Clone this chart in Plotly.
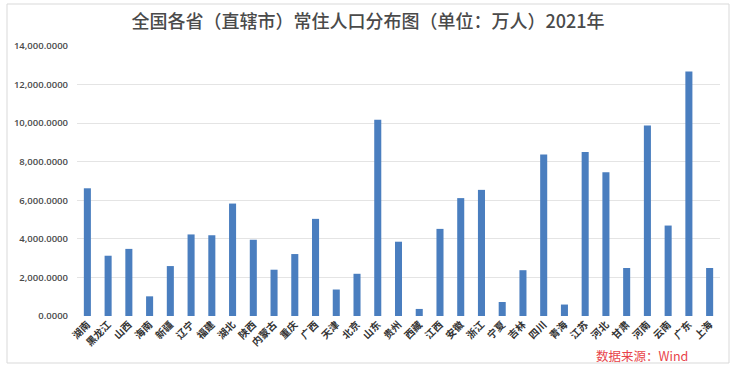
import plotly.graph_objects as go

provinces = ["湖南", "黑龙江", "山西", "海南", "新疆", "辽宁", "福建", "湖北", "陕西", "内蒙古",
             "重庆", "广西", "天津", "北京", "山东", "贵州", "西藏", "江西", "安徽", "浙江",
             "宁夏", "吉林", "四川", "青海", "江苏", "河北", "甘肃", "河南", "云南", "广东", "上海"]
population = [6622, 3125, 3480, 1020, 2589, 4229, 4187, 5830, 3954, 2400,
              3212, 5037, 1373, 2189, 10170, 3852, 366, 4517, 6113, 6540,
              725, 2375, 8372, 594, 8505, 7448, 2490, 9883, 4690, 12684, 2489]
y_ticks = [0, 2000, 4000, 6000, 8000, 10000, 12000, 14000]

title_text = "全国各省（直辖市）常住人口分布图（单位：万人）2021年"
source_text = "数据来源：Wind"

fig = go.Figure(go.Bar(
    x=provinces, y=population,
    marker=dict(color="#4a7ebf", line=dict(width=0)),
))

fig.update_layout(
    width=736, height=372,
    margin=dict(l=77, r=16, t=46, b=56, autoexpand=False),
    paper_bgcolor="white", plot_bgcolor="white",
    bargap=0.66,
    showlegend=False,
    title=dict(text=title_text, xref="paper", xanchor="center",
               y=1 - 22 / 372, yanchor="middle", yref="container",
               font=dict(family="Noto Sans CJK SC", size=18, color="#4a4a4a", weight=500)),
    font=dict(family="Noto Sans CJK SC"),
)
fig.update_layout(title_x=(368 - 77) / 643)

fig.update_xaxes(
    tickangle=-45, automargin=False, showline=False, ticks="",
    tickfont=dict(family="Noto Sans CJK SC", size=10, color="#333333", weight="bold"),
    showgrid=False,
)
fig.update_yaxes(
    range=[0, 14000], tickvals=y_ticks, tickformat=",.4f",
    automargin=False, showline=False, zeroline=False, ticks="",
    ticklabelstandoff=8,
    showgrid=True, gridcolor="#e4e4e4", gridwidth=1,
    tickfont=dict(family="Open Sans", size=9.5, color="#4a4a4a", weight=600),
)

# outer frame
fig.add_shape(type="rect", xref="paper", yref="paper",
              x0=(7 - 77) / 643, x1=(729 - 77) / 643,
              y0=(316 - 363) / 270, y1=(316 - 4) / 270,
              line=dict(color="#d9d9d9", width=1), fillcolor="rgba(0,0,0,0)", layer="below")

fig.add_annotation(text=source_text, xref="paper", yref="paper",
                   x=(690 - 77) / 643, xanchor="right",
                   y=(316 - 355) / 270, yanchor="middle",
                   showarrow=False,
                   font=dict(family="Noto Sans CJK SC", size=12.5, color="#e8434a"))

fig.write_html("out.html",
               config={"displayModeBar": False},
               post_script="document.body.style.margin='0';document.body.style.padding='0';")
